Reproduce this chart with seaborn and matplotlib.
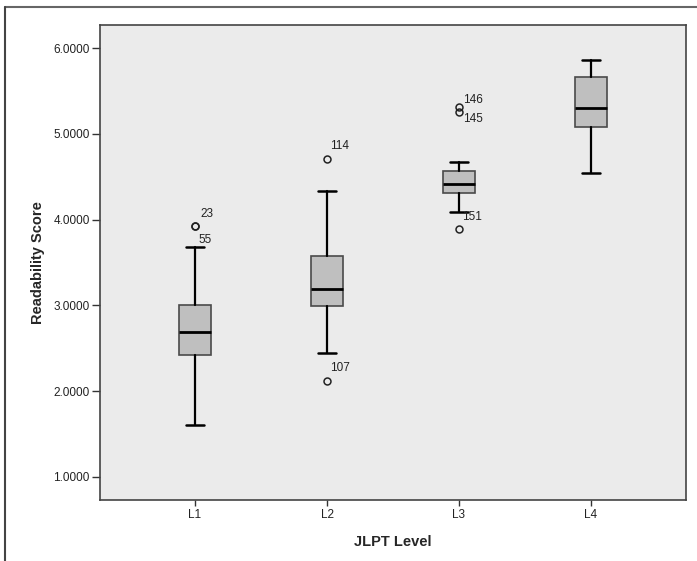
import numpy as np
import matplotlib.pyplot as plt
import seaborn as sns
from matplotlib.lines import Line2D

# --- data ---
levels = ['L1', 'L2', 'L3', 'L4']
whisker_low = [1.60, 2.45, 4.09, 4.54]
q1 = [2.42, 2.99, 4.31, 5.08]
median = [2.69, 3.19, 4.41, 5.30]
q3 = [3.00, 3.57, 4.57, 5.66]
whisker_high = [3.68, 4.33, 4.67, 5.86]
outliers = [[3.93, 3.93], [4.71, 2.12], [5.31, 5.25, 3.89], []]
outlier_ids = [['23', '55'], ['114', '107'], ['146', '145', '151'], []]
# label offsets in pixels (dx, dy) relative to the outlier marker
label_offsets = [[(5, 12), (3, -14)], [(3, 13), (3, 13)], [(4, 7), (4, -7), (3, 12)], []]

sns.set_style('white')
plt.rcParams['font.family'] = ['Liberation Sans', 'DejaVu Sans']

fig = plt.figure(figsize=(6.97, 5.61), dpi=100)
ax = fig.add_axes([100 / 697, 61 / 561, 586 / 697, 475 / 561])
ax.set_facecolor('#ebebeb')

stats = []
for i, lvl in enumerate(levels):
    stats.append({'label': lvl, 'whislo': whisker_low[i], 'q1': q1[i], 'med': median[i],
                  'q3': q3[i], 'whishi': whisker_high[i], 'fliers': outliers[i]})

pos = np.arange(len(levels))
ax.bxp(stats, positions=pos, widths=0.24, patch_artist=True, showfliers=True,
       boxprops=dict(facecolor='#bfbfbf', edgecolor='#4a4a4a', linewidth=1.2),
       medianprops=dict(color='black', linewidth=2),
       whiskerprops=dict(color='black', linewidth=1.6),
       capprops=dict(color='black', linewidth=1.8),
       capwidths=0.14,
       flierprops=dict(marker='o', markersize=5, markerfacecolor='none',
                       markeredgecolor='#222222', markeredgewidth=1.1))

for i in range(len(levels)):
    for val, lab, (dx, dy) in zip(outliers[i], outlier_ids[i], label_offsets[i]):
        ax.annotate(lab, xy=(pos[i], val), xytext=(dx, dy), textcoords='offset pixels',
                    ha='left', va='center', fontsize=8.5, color='#222222')

ax.set_xlim(-0.72, 3.72)
ax.set_ylim(0.73, 6.27)
ax.set_yticks([1, 2, 3, 4, 5, 6])
ax.set_yticklabels(['%.4f' % v for v in [1, 2, 3, 4, 5, 6]])
ax.set_xticks(pos)
ax.set_xticklabels(levels)
ax.tick_params(axis='both', which='both', length=5.5, width=1, color='#333333',
               labelsize=8.5, labelcolor='#222222', direction='out', pad=2)
ax.tick_params(axis='x', bottom=True, length=4.5)
ax.tick_params(axis='y', left=True)
for s in ax.spines.values():
    s.set_color('#444444')
    s.set_linewidth(1.2)

ax.set_xlabel('JLPT Level', fontsize=10.5, fontweight='bold', labelpad=10)
ax.set_ylabel('Readability Score', fontsize=10.5, fontweight='bold', labelpad=6)

# outer frame, as in the SPSS output
fig.add_artist(Line2D([5 / 697, 1], [1 - 7 / 561, 1 - 7 / 561], color='#666666', lw=1.5))
fig.add_artist(Line2D([5 / 697, 5 / 697], [0, 1 - 7 / 561], color='#444444', lw=1.5))

fig.savefig('out.png', dpi=100)
